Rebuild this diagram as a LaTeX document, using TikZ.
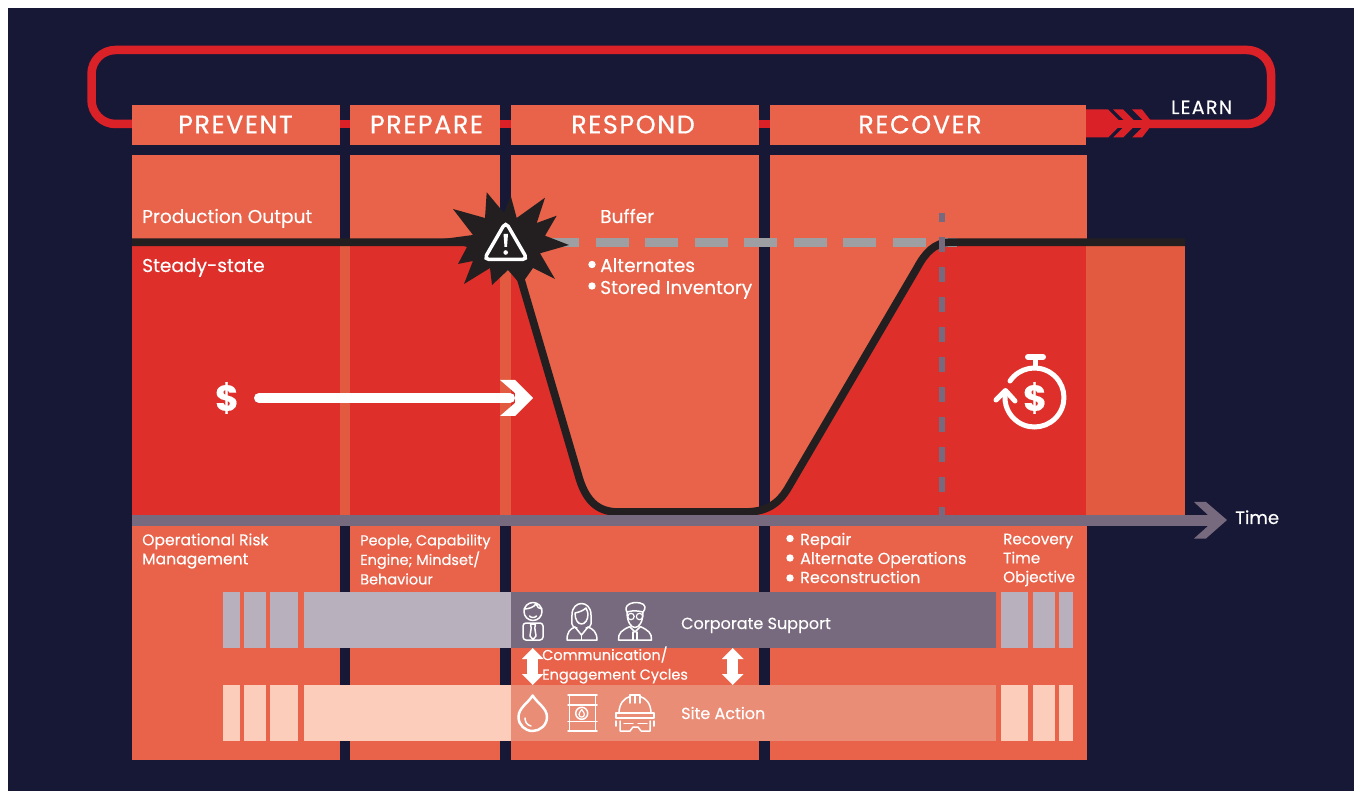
\documentclass[tikz,border=0pt]{standalone}
\usepackage{fontspec}
\setmainfont{Poppins}[FakeBold=0.25]
\newfontfamily\headfont{Poppins}[LetterSpace=6,FakeBold=0.5]
\newfontfamily\learnfont{Poppins}[LetterSpace=7,FakeBold=0.25]
\usepackage{tikz}
\usetikzlibrary{arrows.meta}

\definecolor{framebg}{HTML}{171836}
\definecolor{bodyor}{HTML}{E8634A}
\definecolor{stripor}{HTML}{E25A40}
\definecolor{steadyred}{HTML}{DE2F2A}
\definecolor{loopred}{HTML}{DB2128}
\definecolor{outblack}{HTML}{231F20}
\definecolor{bufgray}{HTML}{9D9FA2}
\definecolor{timepurple}{HTML}{776A7E}
\definecolor{corplight}{HTML}{B8B0BC}
\definecolor{sitelight}{HTML}{FCCDBB}
\definecolor{sitemid}{HTML}{EA8D77}

\tikzset{
  headbox/.style={fill=bodyor,text=white,minimum height=40pt,inner sep=0pt},
  headtxt/.style={text=white,inner sep=0pt,font=\headfont\fontsize{25.5}{26}\selectfont},
  lbl/.style={text=white,anchor=base west,inner sep=0pt,font=\fontsize{18.6}{22}\selectfont},
  lblsm/.style={text=white,anchor=base west,inner sep=0pt,font=\fontsize{16}{19}\selectfont},
  lblblock/.style={text=white,anchor=west,inner sep=0pt,align=left,font=\fontsize{15.6}{19}\selectfont},
  lblnarrow/.style={text=white,anchor=west,inner sep=0pt,align=left,font=\fontsize{14.5}{19.5}\selectfont},
  dollar/.style={text=white,inner sep=0pt,font=\fontsize{36}{36}\selectfont\bfseries},
  icon/.style={draw=white,line width=1.5pt,line join=round,line cap=round},
  updown/.style={white,line width=11pt,{Triangle[length=11pt,width=21pt]}-{Triangle[length=11pt,width=21pt]},shorten >=0pt,shorten <=0pt}
}

\begin{document}
\begin{tikzpicture}[x=1pt,y=-1pt]
\useasboundingbox (0,0) rectangle (1361,791);
\fill[white] (0,0) rectangle (1361,791);
\fill[framebg] (8,8) rectangle (1361,791);
\fill[white] (1354,0) rectangle (1361,791);

\coordinate (loopa) at (140,124);
\coordinate (loopb) at (1150,124);
\draw[loopred,line width=8.5pt,rounded corners=24pt] (loopa) -- (91.5,124) -- (91.5,50) -- (1271,50) -- (1271,124) -- (loopb);
\draw[loopred,line width=8.5pt] (loopa) -- (loopb);

\node[headbox,minimum width=208pt] (prevent) at (236,125) {};
\node[headbox,minimum width=150pt] (prepare) at (425,125) {};
\node[headbox,minimum width=248pt] (respond) at (635,125) {};
\node[headbox,minimum width=316pt] (recover) at (928,125) {};
\node[headtxt] (preventtxt) at (235.5,124.5) {PREVENT};
\node[headtxt] (preparetxt) at (426.5,124.5) {PREPARE};
\node[headtxt] (respondtxt) at (633,124.5) {RESPOND};
\node[headtxt] (recovertxt) at (920,124.5) {RECOVER};

\fill[loopred] (1086,109.5) -- (1108,109.5) -- (1122,123.5) -- (1108,137.5) -- (1086,137.5) -- cycle;
\fill[loopred] (1113,109.5) -- (1123,109.5) -- (1137,123.5) -- (1123,137.5) -- (1113,137.5) -- (1127,123.5) -- cycle;
\fill[loopred] (1132,109.5) -- (1142,109.5) -- (1153,123.5) -- (1142,137.5) -- (1132,137.5) -- (1146,123.5) -- cycle;

\fill[bodyor] (132,155) rectangle (340,760);
\fill[bodyor] (350,155) rectangle (500,760);
\fill[bodyor] (511,155) rectangle (759,760);
\fill[bodyor] (770,155) rectangle (1086.5,760);

\fill[stripor] (1086,246) rectangle (1185,515);
\fill[steadyred] (132,246) rectangle (1086,515);
\fill[stripor] (340,246) rectangle (350,515);
\fill[stripor] (500,246) rectangle (511,515);
\fill[bodyor] (510,242) -- (578,474) .. controls (585,500) and (597,512) .. (618,512) -- (745,512) .. controls (765,512) and (778,505) .. (788,488) -- (917,268) .. controls (925,253) and (935,242) .. (950,242) -- cycle;
\fill[framebg] (759,155) rectangle (770,510);

\draw[bufgray,line width=9pt,dash pattern=on 33pt off 16.5pt] (546,242.5) -- (957,242.5);
\draw[outblack,line width=7.7pt,line join=round] (132,242.2) -- (510,242.2) -- (578,474) .. controls (585,500) and (597,512) .. (618,512) -- (745,512) .. controls (765,512) and (778,505) .. (788,488) -- (917,268) .. controls (925,253) and (935,242.2) .. (950,242.2) -- (1185,242.2);
\draw[timepurple,line width=6pt,dash pattern=on 15pt off 15pt,dash phase=6pt] (942,213) -- (942,516);

\fill[timepurple] (132,515) rectangle (1210,526);
\fill[timepurple] (1194,502) -- (1206,502) -- (1227,520) -- (1206,538.5) -- (1194,538.5) -- (1208,526) -- (1208,515) -- cycle;
\fill[framebg] (340,526) rectangle (350,760);
\fill[framebg] (500,526) rectangle (511,760);
\fill[framebg] (759,526) rectangle (770,760);

\fill[outblack] (486.7,192.3) -- (504,213) -- (510.7,195.7) -- (516.7,218) -- (545,197.7) -- (536.7,223) -- (556.7,215.7) -- (545,235.7) -- (569,245) -- (540,253.3) -- (555,279) -- (533,268) -- (521,285) -- (508,270) -- (492,285) -- (490,268) -- (464,284) -- (473,261) -- (458,264) -- (467,247) -- (443,239) -- (473,235) -- (453,209) -- (485,218) -- cycle;
\draw[white,line width=3.5pt,rounded corners=5pt] (505.7,222) -- (527.5,259.5) -- (484,259.5) -- cycle;
\fill[white] (503.5,234) -- (508,234) -- (507,247) -- (504.5,247) -- cycle;
\fill[white] (505.7,252.5) circle (2.3pt);

\node[dollar] (dollarleft) at (227,398) {\$};
\coordinate (moneya) at (259,398);
\coordinate (moneyb) at (510,398);
\draw[white,line width=10pt,line cap=round] (moneya) -- (moneyb);
\fill[white] (500,380) -- (515,380) -- (533,398) -- (515,416) -- (500,416) -- (515,403) -- (515,393) -- cycle;

\draw[white,line width=5pt,line cap=round] (1010,381) arc (214:550:29.5);
\draw[white,line width=5pt,line cap=round,line join=round] (996,400) -- (1005.5,390.5) -- (1015,401);
\draw[white,line width=5pt] (1035.5,357) -- (1035.5,367);
\draw[white,line width=6pt,line cap=round] (1028,357) -- (1043,357);
\node[dollar] (dollarright) at (1035,398) {\$};

\node[lbl] (prodout) at (142,223) {Production Output};
\node[lbl] (steady) at (142,272) {Steady-state};
\node[lbl] (buffer) at (600,223) {Buffer};
\fill[white] (592,264.5) circle (3.7pt);
\fill[white] (592,286) circle (3.7pt);
\node[lbl] (altern) at (600,272) {Alternates};
\node[lbl] (stored) at (600,294) {Stored Inventory};

\node[lblblock] (oprisk) at (142,551) {Operational Risk\\Management};
\node[lblnarrow] (people) at (360,559.5) {People, Capability\\Engine; Mindset/\\Behaviour};
\fill[white] (790,538.5) circle (3.7pt);
\fill[white] (790,558) circle (3.7pt);
\fill[white] (790,578) circle (3.7pt);
\node[lblsm] (repair) at (800,545) {Repair};
\node[lblsm] (alterop) at (800,564) {Alternate Operations};
\node[lblsm] (recons) at (800,583) {Reconstruction};
\node[lblnarrow,font=\fontsize{15.2}{19}\selectfont] (rto) at (1003,560) {Recovery\\Time\\Objective};

\fill[corplight] (223,592) rectangle (240,648);
\fill[corplight] (244,592) rectangle (266,648);
\fill[corplight] (270,592) rectangle (298,648);
\fill[corplight] (304,592) rectangle (511,648);
\fill[timepurple] (511,592) rectangle (996,648);
\fill[corplight] (1001,592) rectangle (1028,648);
\fill[corplight] (1033,592) rectangle (1055,648);
\fill[corplight] (1059,592) rectangle (1073,648);

\fill[sitelight] (223,685) rectangle (240,741);
\fill[sitelight] (244,685) rectangle (266,741);
\fill[sitelight] (270,685) rectangle (298,741);
\fill[sitelight] (304,685) rectangle (511,741);
\fill[sitemid] (511,685) rectangle (996,741);
\fill[sitelight] (1001,685) rectangle (1028,741);
\fill[sitelight] (1033,685) rectangle (1055,741);
\fill[sitelight] (1059,685) rectangle (1073,741);

\node[lblsm] (corp) at (681,629) {Corporate Support};
\node[lblsm] (site) at (681,719) {Site Action};
\coordinate (commaa) at (532.7,648);
\coordinate (commab) at (532.7,685);
\coordinate (commca) at (732.7,648);
\coordinate (commcb) at (732.7,685);
\draw[updown] (commaa) -- (commab);
\draw[updown] (commca) -- (commcb);
\node[lblnarrow] (comm) at (542,665) {Communication/\\Engagement Cycles};

\draw[icon] (533,611.5) circle (9pt);
\draw[icon] (524,609) .. controls (529,609) and (534,607) .. (536,604) .. controls (537,607) and (539,609) .. (542,609);
\draw[icon] (529.5,616) .. controls (531,618) and (535,618) .. (536.5,616);
\draw[icon,rounded corners=3pt] (523,640) -- (523,623) -- (543,623) -- (543,640) -- cycle;
\draw[icon] (530.5,624) -- (535.5,624) -- (534.8,628) -- (536,636) -- (533,639.5) -- (530,636) -- (531.2,628) -- cycle;

\draw[icon] (577,628) .. controls (570,627) and (572,622) .. (572,615) .. controls (572,607) and (577,603.5) .. (581.5,603.5) .. controls (586,603.5) and (591,607) .. (591,615) .. controls (591,622) and (593,627) .. (586,628);
\draw[icon] (575,613) .. controls (580,612) and (584,610) .. (586,608) .. controls (587,611) and (588,612) .. (588,614) .. controls (588,620) and (585,624) .. (581.5,624) .. controls (578,624) and (575,620) .. (575,613);
\draw[icon] (575,627) .. controls (570,629) and (567,632) .. (567,640) -- (597,640) .. controls (597,632) and (593,629) .. (588,627) -- (581.5,635) -- cycle;
\draw[icon] (581.5,635) -- (581.5,640);

\draw[icon] (627,612) .. controls (627,622) and (631,627.5) .. (635,627.5) .. controls (639,627.5) and (643,622) .. (643,612);
\draw[icon] (627,612) .. controls (623,606) and (631,601) .. (640,603) .. controls (646,604) and (646,609) .. (643,612) .. controls (638,611) and (634,610) .. (627,612);
\draw[icon,line width=1.2pt] (631,616.5) circle (3.2pt);
\draw[icon,line width=1.2pt] (639.5,616.5) circle (3.2pt);
\draw[icon] (630,626.5) .. controls (622,630) and (618,633) .. (618.5,640) -- (651.5,640) .. controls (652,633) and (648,630) .. (640,626.5);
\draw[icon] (630,627) -- (635,632) -- (640,627);
\draw[icon] (633,632) -- (633,640);
\draw[icon] (637,632) -- (637,640);

\draw[icon,line width=2.5pt] (532.7,695.5) .. controls (528,703) and (518.5,708) .. (518.5,717) .. controls (518.5,725) and (525,731) .. (532.7,731) .. controls (540,731) and (547,725) .. (547,717) .. controls (547,708) and (537,703) .. cycle;
\draw[icon] (525,718) .. controls (525,722) and (527,725) .. (531,726);

\draw[icon] (569.5,695) -- (569.5,731);
\draw[icon] (595.5,695) -- (595.5,731);
\draw[icon] (568,695) -- (597,695);
\draw[icon] (568,705) -- (597,705);
\draw[icon] (568,721.5) -- (597,721.5);
\draw[icon] (568,731) -- (597,731);
\draw[icon] (581.7,713.3) circle (6pt);
\draw[icon,line width=1.2pt] (581.7,709.5) .. controls (580,712) and (579,713) .. (579,714.5) .. controls (579,718) and (584.4,718) .. (584.4,714.5) .. controls (584.4,713) and (583.4,712) .. cycle;

\draw[icon] (619,713) .. controls (619,704) and (624,698) .. (630,696.5);
\draw[icon] (640,696.5) .. controls (646,698) and (651,704) .. (651,713);
\draw[icon] (630,703) -- (630,695) -- (640,695) -- (640,703);
\draw[icon] (635,695) -- (635,703);
\draw[icon] (616,713) -- (654,713) -- (654,718) -- (616,718) -- cycle;
\draw[icon] (620,721) -- (620,731) -- (630,731) -- (633,727) -- (638,727) -- (641,731) -- (650,731) -- (650,721);
\draw[icon] (624,723.5) -- (633,723.5);
\draw[icon] (638,723.5) -- (647,723.5);
\draw[icon] (616,721) -- (616,726);
\draw[icon] (654,721) -- (654,726);

\node[lbl,font=\learnfont\fontsize{19}{22}\selectfont] (learn) at (1171,114) {LEARN};
\node[lbl,font=\fontsize{18}{22}\selectfont] (time) at (1235,524) {Time};
\end{tikzpicture}
\end{document}
